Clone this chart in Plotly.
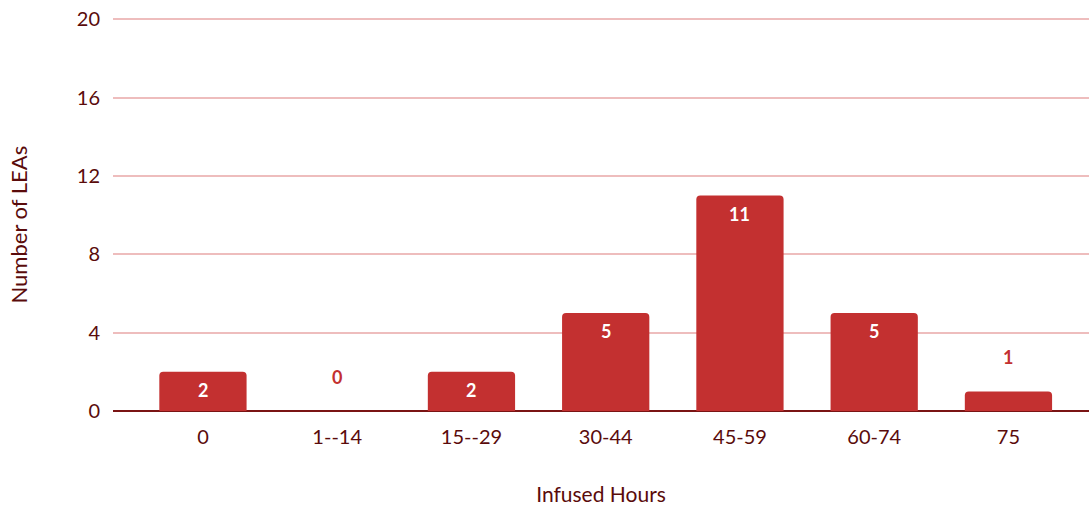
import plotly.graph_objects as go

# Number of LEAs by infused hours band
categories = ["0", "1--14", "15--29", "30-44", "45-59", "60-74", "75"]
lea_counts = [2, 0, 2, 5, 11, 5, 1]
y_ticks = [0, 4, 8, 12, 16, 20]

BAR = "#C33030"
TEXT = "#5A0B0B"
GRID = "#EEBDBD"
FONT = "Lato, 'Open Sans', sans-serif"

fig = go.Figure()
fig.add_trace(go.Bar(
    x=list(range(len(categories))),
    y=lea_counts,
    marker=dict(color=BAR, cornerradius=4, line=dict(width=0)),
    hovertext=categories,
    hoverinfo="text+y",
))

# Value labels: white inside the bar top, red above short bars
annotations = []
for i, val in enumerate(lea_counts):
    inside = val >= 2
    annotations.append(dict(
        x=i, y=val, xref="x", yref="y",
        text=f"<b>{val}</b>",
        showarrow=False,
        yshift=-18 if inside else 34,
        font=dict(family=FONT, size=18, color="white" if inside else BAR),
    ))

# Vertical axis title placed as a rotated annotation
annotations.append(dict(
    x=0, y=0.5, xref="paper", yref="paper",
    xanchor="center", yanchor="middle",
    xshift=-95, yshift=-10,
    text="Number of LEAs", textangle=-90,
    showarrow=False,
    font=dict(family=FONT, size=22, color=TEXT),
))

fig.update_layout(
    width=1089, height=506,
    margin=dict(l=113, r=0, t=18, b=95),
    paper_bgcolor="white",
    plot_bgcolor="white",
    bargap=0.35,
    showlegend=False,
    font=dict(family=FONT, color=TEXT, size=20),
    annotations=annotations,
    xaxis=dict(
        range=[-0.67, 6.6],
        tickvals=list(range(len(categories))),
        ticktext=categories,
        showgrid=False,
        showline=False,
        ticks="",
        ticklabelstandoff=12,
        tickfont=dict(size=20, color=TEXT),
        title=dict(text="Infused Hours", font=dict(size=21, color=TEXT), standoff=42),
        zeroline=False,
    ),
    yaxis=dict(
        range=[0, 20.06],
        tickvals=y_ticks,
        showgrid=True,
        gridcolor=GRID,
        gridwidth=1.5,
        zeroline=True,
        zerolinecolor="#7A1414",
        zerolinewidth=2,
        showline=False,
        ticks="",
        ticklabelstandoff=12,
        tickfont=dict(size=20, color=TEXT),
    ),
)

fig.write_html("out.html")
